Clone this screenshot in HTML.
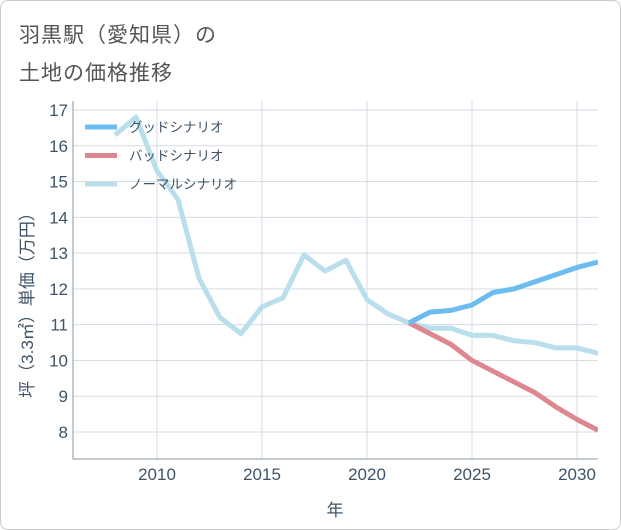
<!DOCTYPE html>
<html><head><meta charset="utf-8"><style>
body{margin:0;background:#fff;font-family:"Liberation Sans","Noto Sans CJK JP",sans-serif}
#wrap{position:relative;width:619px;height:528px;border:1px solid #ccc;border-radius:8px;overflow:hidden;background:#fff}
.title{position:absolute;left:18px;font-size:21px;color:#555;letter-spacing:1px}
</style></head><body>
<div id="wrap">
<div class="title" style="top:18px">羽黒駅（愛知県）の</div>
<div class="title" style="top:56px">土地の価格推移</div>
<svg id="chart" width="621" height="530" style="position:absolute;left:0;top:0"></svg>
</div>
<script>
const xTicks=[2010,2015,2020,2025,2030];
const yTicks=[8,9,10,11,12,13,14,15,16,17];
const normalYears=[2008,2009,2010,2011,2012,2013,2014,2015,2016,2017,2018,2019,2020,2021,2022,2023,2024,2025,2026,2027,2028,2029,2030,2031];
const normalVals=[16.3,16.8,15.3,14.5,12.3,11.2,10.75,11.5,11.75,12.95,12.5,12.8,11.7,11.3,11.05,10.9,10.9,10.7,10.7,10.55,10.5,10.35,10.35,10.2];
const futureYears=[2022,2023,2024,2025,2026,2027,2028,2029,2030,2031];
const goodVals=[11.05,11.35,11.4,11.55,11.9,12.0,12.2,12.4,12.6,12.75];
const badVals=[11.05,10.75,10.45,10.0,9.7,9.4,9.1,8.7,8.35,8.05];
const L=72,R=597,T=100,B=458;
const X=y=>156+(y-2010)*21;
const Y=v=>109+(17-v)*35.78;
const NS='http://www.w3.org/2000/svg';
const svg=document.getElementById('chart');
function mk(t,a){const e=document.createElementNS(NS,t);for(const k in a)e.setAttribute(k,a[k]);svg.appendChild(e);return e;}
const defs=mk('clipPath',{id:'pc'});const cr=document.createElementNS(NS,'rect');
cr.setAttribute('x',L);cr.setAttribute('y',T);cr.setAttribute('width',R-L);cr.setAttribute('height',B-T);defs.appendChild(cr);
const TC='#3f5468';
for(const t of xTicks){const g=mk('line',{x1:X(t),x2:X(t),y1:T,y2:B,stroke:'#d5dde5','stroke-width':1});


const tx=mk('text',{x:X(t),y:B+21,'text-anchor':'middle','font-size':17,fill:TC});tx.textContent=t;

}
for(const t of yTicks){const g=mk('line',{x1:L,x2:R,y1:Y(t),y2:Y(t),stroke:'#d5dde5','stroke-width':1});


const tx=mk('text',{x:L-5,y:Y(t)+6,'text-anchor':'end','font-size':17,fill:TC});tx.textContent=t;

}
const ax=mk('path',{d:`M${L},${T}V${B}H${R}`,fill:'none',stroke:'#8a98a6','stroke-width':1});


function line(xs,vs,col,name){const p=mk('polyline',{points:xs.map((x,i)=>X(x)+','+Y(vs[i])).join(' '),fill:'none',stroke:col,'stroke-width':5,'stroke-linejoin':'round','clip-path':'url(#pc)'});

}
line(normalYears,normalVals,'#b9dfec','normal-scenario-line');
line(futureYears,badVals,'#dd8890','bad-scenario-line');
line(futureYears,goodVals,'#6cbcf0','good-scenario-line');
const leg=[['グッドシナリオ','#6cbcf0'],['バッドシナリオ','#dd8890'],['ノーマルシナリオ','#b9dfec']];
leg.forEach((l,i)=>{const y=126+i*28.5;
const s=mk('line',{x1:84,x2:116,y1:y,y2:y,stroke:l[1],'stroke-width':5});


const t=mk('text',{x:128,y:y+5,'font-size':13.5,fill:TC});t.textContent=l[0];

});
const xt=mk('text',{x:334,y:515,'text-anchor':'middle','font-size':17,fill:TC});xt.textContent='年';


const yt=mk('text',{x:0,y:0,'text-anchor':'middle','font-size':17,fill:TC,transform:'translate(32,300) rotate(-90)'});yt.textContent='坪（3.3㎡）単価（万円）';


</script>
</body></html>
